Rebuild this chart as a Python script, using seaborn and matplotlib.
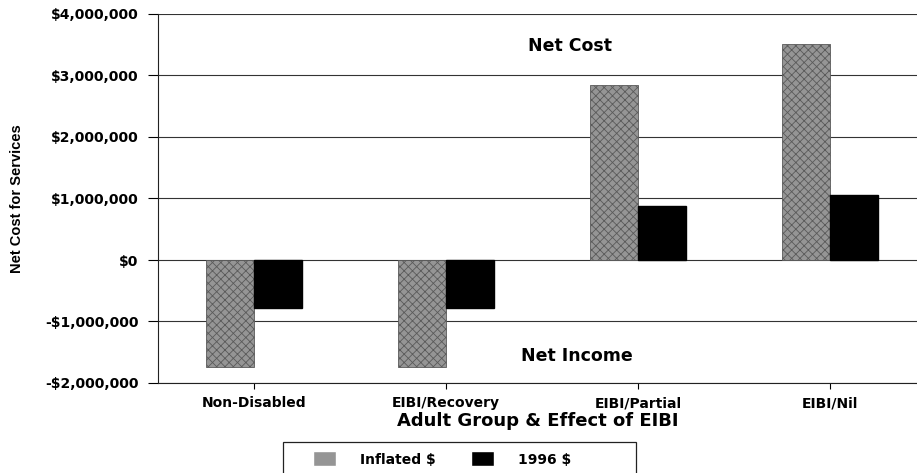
import matplotlib
matplotlib.use("Agg")
import matplotlib.pyplot as plt
from matplotlib.patches import Rectangle
import seaborn as sns
import pandas as pd

# ---- data ----
groups = ["Non-Disabled", "EIBI/Recovery", "EIBI/Partial", "EIBI/Nil"]
series_names = ["Inflated $", "1996 $"]
inflated = [-1740000, -1740000, 2840000, 3520000]
dollars_1996 = [-775000, -775000, 875000, 1060000]
ytick_values = [-2000000, -1000000, 0, 1000000, 2000000, 3000000, 4000000]
ytick_labels = ["-$2,000,000", "-$1,000,000", "$0", "$1,000,000",
                "$2,000,000", "$3,000,000", "$4,000,000"]
annotations = ["Net Cost", "Net Income"]

df = pd.DataFrame({
    "group": groups * 2,
    "series": [series_names[0]] * 4 + [series_names[1]] * 4,
    "value": inflated + dollars_1996,
})

sns.set_style("white")
plt.rcParams["font.family"] = ["DejaVu Sans"]
plt.rcParams["hatch.linewidth"] = 0.6
for k in ["text.color", "axes.labelcolor", "xtick.color", "ytick.color"]:
    plt.rcParams[k] = "black"

fig = plt.figure(figsize=(9.17, 4.73), dpi=100)
ax = fig.add_axes([158 / 917, 1 - 383 / 473, (917 - 158) / 917, (383 - 14) / 473])

sns.barplot(data=df, x="group", y="value", hue="series", order=groups,
            hue_order=series_names, palette=["#959595", "#000000"],
            width=0.5, saturation=1, ax=ax, zorder=3, errorbar=None)

# texture on inflated bars
for patch in ax.containers[0]:
    patch.set_hatch("xxxx")
    patch.set_edgecolor("#5a5a5a")
    patch.set_linewidth(0.6)
for patch in ax.containers[1]:
    patch.set_edgecolor("#000000")

ax.set_xlim(-0.5, -0.5 + 759 / 192)
ax.set_ylim(-2000000, 4000000)
ax.set_yticks(ytick_values)
ax.set_yticklabels(ytick_labels, fontsize=10, fontweight="bold")
ax.tick_params(axis="y", length=7, width=0.8, pad=7, left=True, direction="out")
ax.tick_params(axis="x", length=4.5, width=0.8, pad=5, bottom=True, direction="out",
               labelsize=10)
for t in ax.get_xticklabels():
    t.set_fontweight("bold")

ax.yaxis.grid(True, color="#333333", linewidth=0.8, zorder=0)
ax.set_axisbelow(True)
for s in ["top", "right"]:
    ax.spines[s].set_visible(False)
ax.spines["left"].set_color("#222222")
ax.spines["left"].set_linewidth(0.8)
ax.spines["bottom"].set_color("#222222")
ax.spines["bottom"].set_linewidth(0.8)

ax.set_xlabel("Adult Group & Effect of EIBI", fontsize=13, fontweight="bold", labelpad=1)
ax.set_ylabel("Net Cost for Services", fontsize=10.5, fontweight="bold",
              family=["Liberation Sans", "DejaVu Sans"])
ax.yaxis.set_label_coords(-0.177, 0.5)

ax.text(1.646, 3480000, annotations[0], fontsize=12.5, fontweight="bold",
        ha="center", va="center")
ax.text(1.68, -1560000, annotations[1], fontsize=12.5, fontweight="bold",
        ha="center", va="center")

# legend (frame drawn separately to match the wide box)
sns.move_legend(ax, loc="center left", bbox_to_anchor=(313 / 917, 1 - 459 / 473),
                bbox_transform=fig.transFigure, ncol=2, title=None, frameon=False,
                prop={"weight": "bold", "size": 10},
                handlelength=1.65, handleheight=1.25, handletextpad=1.7,
                columnspacing=2.6, borderpad=0, borderaxespad=0)
fig.patches.append(Rectangle((283 / 917, -0.02), 353 / 917, 0.02 + 1 - 442 / 473,
                             transform=fig.transFigure, fill=False,
                             edgecolor="#222222", linewidth=0.9))

fig.savefig("out.png", dpi=100, facecolor="white")
